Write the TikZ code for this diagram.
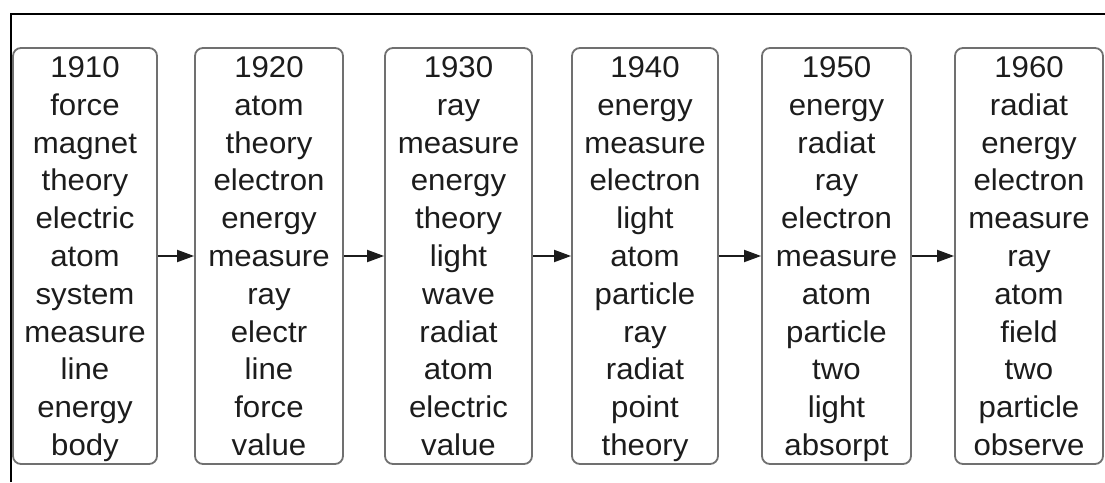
\documentclass[tikz,border=0pt]{standalone}
\usepackage{fontspec}
\setmainfont{Liberation Sans}[FakeStretch=1.04]
\usetikzlibrary{arrows.meta}
\definecolor{boxgray}{HTML}{707070}
\definecolor{txt}{HTML}{1C1C1C}
\begin{document}
\begin{tikzpicture}[x=1pt,y=-1pt,
  yearbox/.style={draw=boxgray, line width=1.8pt, rounded corners=8pt, inner sep=0pt,
    minimum height=416pt, align=center, text=txt, text depth=0pt,
    font=\fontsize{30}{37.8}\selectfont},
  flow/.style={draw=txt, line width=1.8pt, -{Triangle[length=17pt,width=12pt]}},
  frame/.style={draw=black, line width=2pt}]
\useasboundingbox (0,0) rectangle (1105,482);
\draw[frame] (11,482) -- (11,14) -- (1105,14);
\node[yearbox, minimum width=144pt] (b1) at (85,256) {1910\\force\\magnet\\theory\\electric\\atom\\system\\measure\\line\\energy\\body};
\node[yearbox, minimum width=148pt] (b2) at (269,256) {1920\\atom\\theory\\electron\\energy\\measure\\ray\\electr\\line\\force\\value};
\node[yearbox, minimum width=147pt] (b3) at (458.5,256) {1930\\ray\\measure\\energy\\theory\\light\\wave\\radiat\\atom\\electric\\value};
\node[yearbox, minimum width=146pt] (b4) at (645,256) {1940\\energy\\measure\\electron\\light\\atom\\particle\\ray\\radiat\\point\\theory};
\node[yearbox, minimum width=149pt] (b5) at (836.5,256) {1950\\energy\\radiat\\ray\\electron\\measure\\atom\\particle\\two\\light\\absorpt};
\node[yearbox, minimum width=148pt] (b6) at (1029,256) {1960\\radiat\\energy\\electron\\measure\\ray\\atom\\field\\two\\particle\\observe};
\draw[flow] (b1.east) -- (b2.west);
\draw[flow] (b2.east) -- (b3.west);
\draw[flow] (b3.east) -- (b4.west);
\draw[flow] (b4.east) -- (b5.west);
\draw[flow] (b5.east) -- (b6.west);
\end{tikzpicture}
\end{document}
